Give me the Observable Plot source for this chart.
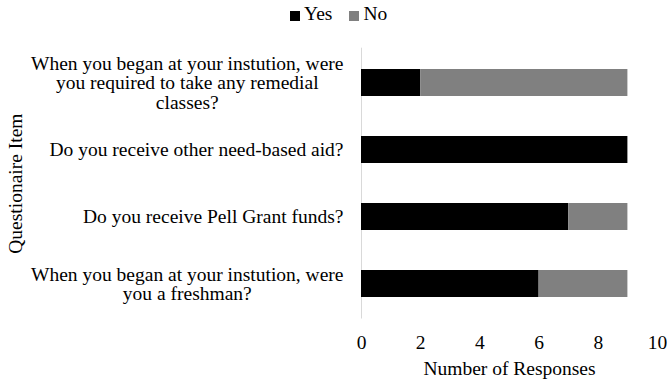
<!DOCTYPE html>
<html>
<head>
<meta charset="utf-8">
<script src="https://cdn.jsdelivr.net/npm/d3@7"></script>
<script src="https://cdn.jsdelivr.net/npm/@observablehq/plot@0.6"></script>
<style>
  html, body { margin: 0; padding: 0; background: #fff; }
  #wrap { position: relative; width: 667px; height: 381px; font-family: "Liberation Serif", "Times New Roman", serif; }
  #legend { position: absolute; left: 290px; top: 2px; height: 24px; display: flex; align-items: center; font-size: 19.5px; color: #000; line-height: 1; }
  #legend .item { display: flex; align-items: center; margin-right: 17px; }
  #legend .sw { width: 10px; height: 10px; margin-right: 4px; margin-top: 3px; }
</style>
</head>
<body>
<div id="wrap"><div id="legend"></div></div>
<script>
const questions = [
  "When you began at your instution, were\nyou required to take any remedial\nclasses?",
  "Do you receive other need-based aid?",
  "Do you receive Pell Grant funds?",
  "When you began at your instution, were\nyou a freshman?"
];
const yesValues = [2, 9, 7, 6];
const noValues = [7, 0, 2, 3];
const seriesNames = ["Yes", "No"];
const seriesColors = ["#000000", "#808080"];
const xTicks = [0, 2, 4, 6, 8, 10];
const xLabel = "Number of Responses";
const yLabel = "Questionaire Item";

const table = [];
questions.forEach((q, i) => {
  table.push({question: q, series: seriesNames[0], value: yesValues[i]});
  table.push({question: q, series: seriesNames[1], value: noValues[i]});
});

const chart = Plot.plot({
  width: 667,
  height: 381,
  marginLeft: 361,
  marginRight: 10,
  marginTop: 47.7,
  marginBottom: 62.5,
  style: {fontFamily: "'Liberation Serif', 'Times New Roman', serif", fontSize: "19.5px", background: "white", color: "black"},
  x: {domain: [0, 10]},
  y: {domain: questions, paddingInner: 0.6, paddingOuter: 0.3},
  color: {domain: seriesNames, range: seriesColors},
  marks: [
    Plot.ruleX([0], {stroke: "#d9d9d9", strokeWidth: 1}),
    Plot.barX(table, {x: "value", y: "question", fill: "series", order: seriesNames}),
    Plot.axisX({ticks: xTicks, tickSize: 0, tickPadding: 15.7, label: xLabel, labelAnchor: "center", labelArrow: "none", labelOffset: 55.5}),
    Plot.axisY({tickSize: 0, tickPadding: 18, label: yLabel, labelAnchor: "center", labelArrow: "none", labelOffset: 353})
  ]
});

document.getElementById("wrap").appendChild(chart);

// center multi-line tick labels within their block (block right-aligned)
function centerLabels() {
  chart.querySelectorAll('g[aria-label="y-axis tick label"] text').forEach(t => {
    const spans = t.querySelectorAll("tspan");
    if (spans.length < 2) return;
    let maxW = 0;
    spans.forEach(s => { maxW = Math.max(maxW, s.getComputedTextLength()); });
    t.setAttribute("text-anchor", "middle");
    spans.forEach(s => s.setAttribute("x", -maxW / 2));
  });
}
centerLabels();
if (document.fonts) {
  document.fonts.load("19.5px 'Liberation Serif'").then(centerLabels);
  document.fonts.ready.then(centerLabels);
}

const legend = d3.select("#legend");
seriesNames.forEach((name, i) => {
  const item = legend.append("div").attr("class", "item");
  item.append("div").attr("class", "sw").style("background", seriesColors[i]);
  item.append("span").text(name);
});
</script>
</body>
</html>
